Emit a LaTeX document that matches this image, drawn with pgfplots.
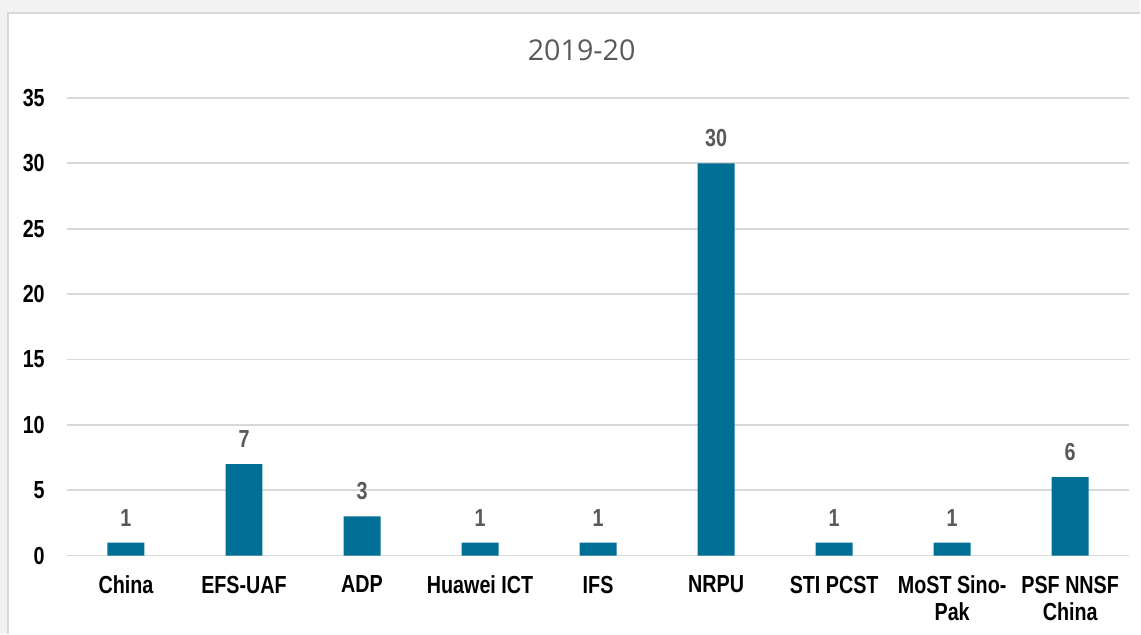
\documentclass[border=0pt]{standalone}
\usepackage{pgfplots}
\pgfplotsset{compat=1.18}
\usepackage{fontspec}
\setmainfont{Liberation Sans}
\newfontfamily\condb[FakeStretch=0.8]{Liberation Sans}
\newfontfamily\titlefont{Open Sans}
\definecolor{barblue}{RGB}{0,111,150}
\definecolor{gridgray}{RGB}{217,217,217}
\definecolor{labgray}{RGB}{89,89,89}
\definecolor{bggray}{RGB}{242,242,242}
\begin{document}
\begin{tikzpicture}
\fill[bggray] (0,0) rectangle (855.75pt,475.5pt);
\fill[white] (6pt,0) rectangle (855.75pt,465.75pt);
\draw[gridgray,line width=1.2pt] (6pt,0) -- (6pt,465.75pt) -- (855.75pt,465.75pt);
\node[font=\titlefont\fontsize{21.5}{24}\selectfont, text=labgray, anchor=center] at (436.5pt,438pt) {2019-20};
\begin{axis}[
  at={(50.25pt,58.5pt)}, anchor=south west,
  scale only axis,
  width=797.25pt, height=343.5pt,
  xmin=-0.5, xmax=8.5,
  ymin=0, ymax=35,
  ytick={0,5,...,35},
  xtick={0,...,8},
  xticklabels={China,EFS-UAF,ADP,Huawei ICT,IFS,NRPU,STI PCST,{MoST Sino-\\Pak},{PSF NNSF\\China}},
  /pgf/number format/assume math mode=true,
  axis line style={draw=none},
  major tick length=0pt,
  ymajorgrids,
  grid style={gridgray, line width=1.3pt},
  yticklabel style={font=\condb\bfseries\fontsize{18.5}{20.25}\selectfont, anchor=east, inner sep=0pt, xshift=-16.5pt},
  xticklabel style={font=\condb\bfseries\fontsize{18.5}{20.25}\selectfont, anchor=north, inner sep=0pt, yshift=-15pt, align=center},
  ybar, bar width=27.75pt,
  nodes near coords,
  every node near coord/.append style={font=\condb\bfseries\fontsize{18.5}{20.25}\selectfont, text=labgray, anchor=south, inner sep=0pt, yshift=12pt},
]
\addplot[fill=barblue, draw=none] coordinates {(0,1) (1,7) (2,3) (3,1) (4,1) (5,30) (6,1) (7,1) (8,6)};
\end{axis}
\end{tikzpicture}
\end{document}
